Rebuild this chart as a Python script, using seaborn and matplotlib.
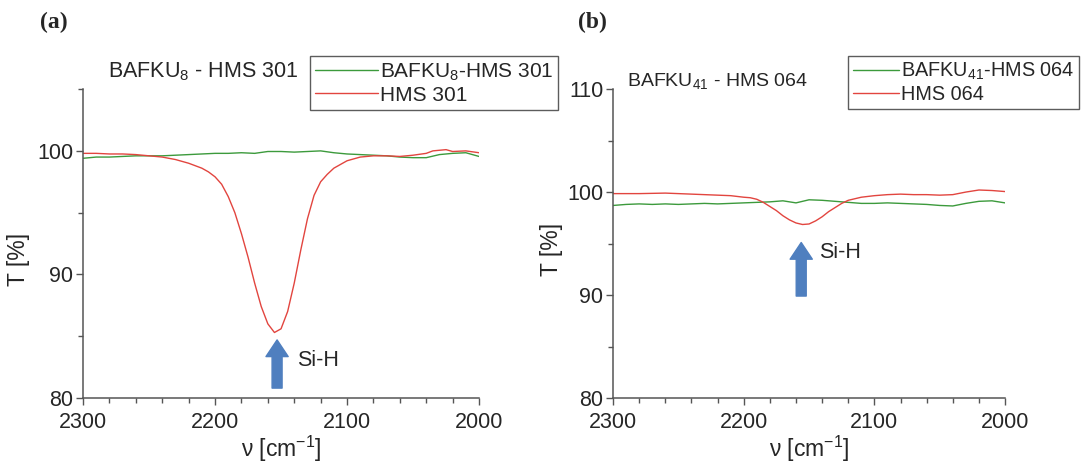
import numpy as np
import pandas as pd
import matplotlib
matplotlib.use("Agg")
import matplotlib.pyplot as plt
import seaborn as sns
from matplotlib.ticker import MultipleLocator

# (a) BAFKU8 - HMS 301
nu_a_green = [2300, 2290, 2280, 2270, 2260, 2250, 2240, 2230, 2220, 2210, 2200, 2190, 2180, 2170,
              2160, 2150, 2140, 2130, 2120, 2110, 2100, 2090, 2080, 2070, 2060, 2050, 2040, 2030,
              2020, 2010, 2000]
t_a_green = [99.4, 99.5, 99.5, 99.55, 99.6, 99.6, 99.6, 99.65, 99.7, 99.75, 99.8, 99.8, 99.85, 99.8,
             99.95, 99.95, 99.9, 99.95, 100.0, 99.85, 99.75, 99.7, 99.65, 99.6, 99.5, 99.45, 99.45, 99.7,
             99.8, 99.85, 99.55]
nu_a_red = [2300, 2290, 2280, 2270, 2260, 2250, 2240, 2230, 2220, 2210, 2205, 2200, 2195, 2190,
            2185, 2180, 2175, 2170, 2165, 2160, 2155, 2150, 2145, 2140, 2135, 2130, 2125, 2120,
            2115, 2110, 2105, 2100, 2090, 2080, 2070, 2060, 2050, 2040, 2035, 2030, 2025, 2020,
            2010, 2000]
t_a_red = [99.8, 99.8, 99.75, 99.75, 99.7, 99.6, 99.5, 99.3, 99.0, 98.6, 98.3, 97.9, 97.3, 96.3,
           95.0, 93.3, 91.4, 89.3, 87.4, 86.0, 85.3, 85.6, 87.0, 89.3, 92.0, 94.5, 96.4, 97.5,
           98.1, 98.6, 98.9, 99.2, 99.5, 99.6, 99.6, 99.55, 99.65, 99.8, 100.0, 100.05, 100.1, 99.95,
           100.0, 99.85]

# (b) BAFKU41 - HMS 064
nu_b_green = [2300, 2290, 2280, 2270, 2260, 2250, 2240, 2230, 2220, 2210, 2200, 2190, 2180, 2170,
              2160, 2150, 2140, 2130, 2120, 2110, 2100, 2090, 2080, 2070, 2060, 2050, 2040, 2030,
              2020, 2010, 2000]
t_b_green = [98.7, 98.8, 98.85, 98.8, 98.85, 98.8, 98.85, 98.9, 98.85, 98.9, 98.95, 99.0, 99.05, 99.15,
             98.95, 99.25, 99.2, 99.1, 99.0, 98.9, 98.9, 98.95, 98.9, 98.85, 98.8, 98.7, 98.65, 98.9,
             99.1, 99.15, 98.95]
nu_b_red = [2300, 2280, 2260, 2240, 2220, 2210, 2200, 2195, 2190, 2185, 2180, 2175, 2170, 2165,
            2160, 2155, 2150, 2145, 2140, 2135, 2130, 2125, 2120, 2110, 2100, 2090, 2080, 2070,
            2060, 2050, 2040, 2030, 2020, 2010, 2000]
t_b_red = [99.85, 99.85, 99.9, 99.8, 99.7, 99.65, 99.5, 99.45, 99.3, 99.0, 98.6, 98.2, 97.7, 97.3,
           97.0, 96.85, 96.9, 97.2, 97.6, 98.1, 98.5, 98.9, 99.2, 99.5, 99.65, 99.75, 99.8, 99.75,
           99.75, 99.7, 99.75, 100.0, 100.2, 100.15, 100.05]

GREEN = "#3c9a3c"
RED = "#e2453f"
ARROW = "#4f7fbf"

sns.set_theme(style="ticks")
plt.rcParams["font.family"] = ["Liberation Sans", "DejaVu Sans"]
plt.rcParams["mathtext.fontset"] = "custom"
plt.rcParams["mathtext.rm"] = "Liberation Sans"
plt.rcParams["mathtext.it"] = "Liberation Sans:italic"


def make_df(nu_g, t_g, lab_g, nu_r, t_r, lab_r):
    d1 = pd.DataFrame({"nu": nu_g, "T": t_g, "sample": lab_g})
    d2 = pd.DataFrame({"nu": nu_r, "T": t_r, "sample": lab_r})
    return pd.concat([d1, d2], ignore_index=True)


fig = plt.figure(figsize=(10.87, 4.68), dpi=100)
ax_a = fig.add_axes([0.0764, 0.1496, 0.3643, 0.660])
ax_b = fig.add_axes([0.5640, 0.1496, 0.3606, 0.660])

# axis, data, ylim, title, title pos, title size, legend pos, legend size, handle len, arrow, Si-H pos, ylabel pos
panels = [
    (ax_a, make_df(nu_a_green, t_a_green, "BAFKU$_8$-HMS 301", nu_a_red, t_a_red, "HMS 301"),
     (80, 105), "BAFKU$_8$ - HMS 301", (0.063, 1.055), 15.5, (310 / 1087, 1 - 56 / 468), 15, 3.0,
     (2153, 80.8, 84.7), (2138, 83.0), (-0.134, 0.447)),
    (ax_b, make_df(nu_b_green, t_b_green, "BAFKU$_{41}$-HMS 064", nu_b_red, t_b_red, "HMS 064"),
     (80, 110), "BAFKU$_{41}$ - HMS 064", (0.036, 1.026), 14, (848 / 1087, 1 - 56 / 468), 14.3, 2.3,
     (2156, 89.9, 95.1), (2142, 94.1), (-0.128, 0.48)),
]

for ax, df, ylim, title, tpos, tsize, lpos, lsize, hlen, arr, sih, ylab in panels:
    labels = df["sample"].unique()
    sns.lineplot(data=df, x="nu", y="T", hue="sample", palette=[GREEN, RED],
                 hue_order=list(labels), lw=1.0, ax=ax, legend=False)
    ax.set_xlim(2300, 2000)
    ax.set_ylim(*ylim)
    ax.xaxis.set_major_locator(MultipleLocator(100))
    ax.xaxis.set_minor_locator(MultipleLocator(20))
    ax.yaxis.set_major_locator(MultipleLocator(10))
    ax.yaxis.set_minor_locator(MultipleLocator(5))
    ax.tick_params(which="major", length=5, width=1, color="#555555", labelsize=15.5)
    ax.tick_params(which="minor", length=3.5, width=1, color="#555555")
    ax.tick_params(axis="x", which="major", pad=5)
    ax.tick_params(axis="y", which="major", pad=2)
    for s in ["top", "right"]:
        ax.spines[s].set_visible(False)
    for s in ["left", "bottom"]:
        ax.spines[s].set_color("#555555")
        ax.spines[s].set_linewidth(1.1)
    ax.set_xlabel("ν [cm$^{-1}$]", fontsize=16.5, labelpad=1)
    ax.set_ylabel("T [%]", fontsize=16.5)
    ax.yaxis.set_label_coords(*ylab)

    ax.text(tpos[0], tpos[1], title, transform=ax.transAxes, fontsize=tsize, va="center")

    handles = [plt.Line2D([], [], color=GREEN, lw=1.0), plt.Line2D([], [], color=RED, lw=1.0)]
    leg = ax.legend(handles, labels, loc="upper left", bbox_to_anchor=lpos,
                    bbox_transform=fig.transFigure, fontsize=lsize, frameon=True, fancybox=False,
                    handlelength=hlen, handletextpad=0.1, borderpad=0.25, labelspacing=0.15,
                    borderaxespad=0)
    leg.get_frame().set_edgecolor("#333333")
    leg.get_frame().set_linewidth(1.0)

    ax.annotate("", xy=(arr[0], arr[2]), xytext=(arr[0], arr[1]),
                arrowprops=dict(arrowstyle="simple,head_width=1.0,head_length=0.75,tail_width=0.45",
                                color=ARROW, mutation_scale=16, shrinkA=0, shrinkB=0))
    ax.text(sih[0], sih[1], "Si-H", fontsize=15.5, va="center")

fig.text(40 / 1087, 1 - 22 / 468, "(a)", fontsize=17, fontweight="bold",
         family="Liberation Serif", va="center")
fig.text(578 / 1087, 1 - 22 / 468, "(b)", fontsize=17, fontweight="bold",
         family="Liberation Serif", va="center")

fig.savefig("out.png", dpi=100)
